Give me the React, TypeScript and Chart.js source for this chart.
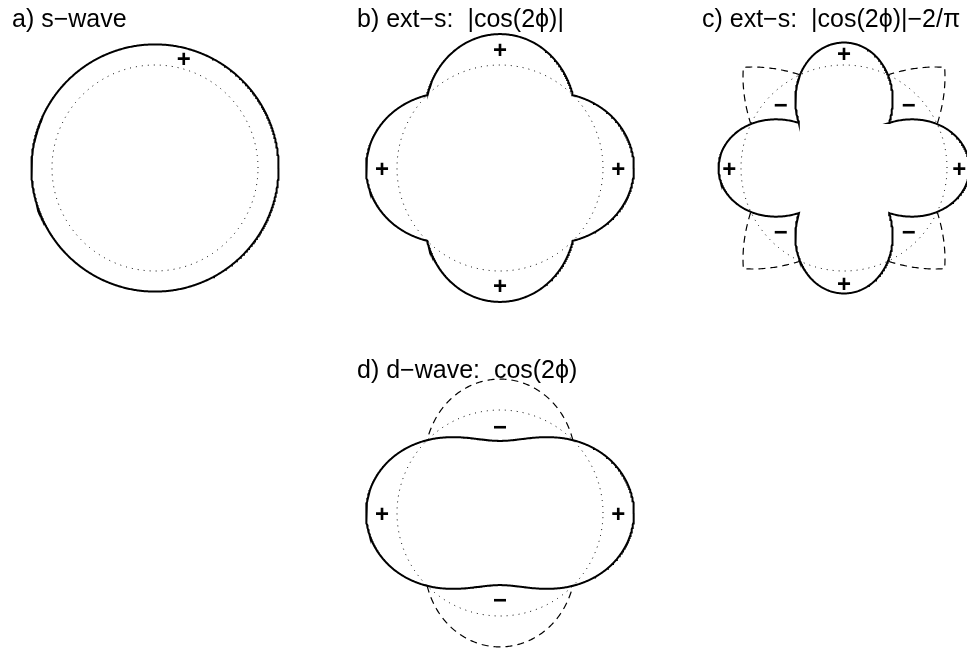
import React, { useEffect, useRef } from "react";
import { Chart, registerables } from "chart.js";

Chart.register(...registerables);

// Panel titles (the gap functions being drawn)
const PANEL_TITLES = [
  "a) s\u2212wave",
  "b) ext\u2212s:  |cos(2\u03D5)|",
  "c) ext\u2212s:  |cos(2\u03D5)|\u22122/\u03C0",
  "d) d\u2212wave:  cos(2\u03D5)",
];

// Gap functions Δ(ϕ) for each panel
const sWave = (_phi: number) => 1;
const extS = (phi: number) => Math.abs(Math.cos(2 * phi));
const extSShifted = (phi: number) => Math.abs(Math.cos(2 * phi)) - 2 / Math.PI;
const dWave = (phi: number) => Math.cos(2 * phi);
const GAP_FUNCTIONS = [sWave, extS, extSShifted, dWave];

// Radial amplitude of the gap relative to the Fermi circle (radius 1)
const AMPLITUDES = [0.2, 0.3, 0.6, 0.3];

// Angular sampling of the polar curves, degrees
const ANGLE_STEP_DEG = 0.5;

// Sign markers, in Fermi-circle units
type Sign = { t: string; x: number; y: number };
const S_WAVE_SIGNS: Sign[] = [{ t: "+", x: 0.28, y: 1.043 }];
const EXT_S_SIGNS: Sign[] = [
  { t: "+", x: 0, y: 1.13 },
  { t: "+", x: 0, y: -1.16 },
  { t: "+", x: -1.146, y: -0.02 },
  { t: "+", x: 1.148, y: -0.02 },
];
const EXT_S_SHIFTED_SIGNS: Sign[] = [
  { t: "+", x: 0, y: 1.097 },
  { t: "+", x: 0, y: -1.136 },
  { t: "+", x: -1.115, y: -0.024 },
  { t: "+", x: 1.118, y: -0.024 },
  { t: "\u2212", x: -0.615, y: 0.602 },
  { t: "\u2212", x: 0.628, y: 0.602 },
  { t: "\u2212", x: -0.615, y: -0.634 },
  { t: "\u2212", x: 0.628, y: -0.634 },
];
const D_WAVE_SIGNS: Sign[] = [
  { t: "+", x: -1.146, y: -0.02 },
  { t: "+", x: 1.148, y: -0.02 },
  { t: "\u2212", x: 0, y: 0.822 },
  { t: "\u2212", x: 0, y: -0.861 },
];
const PANEL_SIGNS = [S_WAVE_SIGNS, EXT_S_SIGNS, EXT_S_SHIFTED_SIGNS, D_WAVE_SIGNS];

// Page layout
const PANEL_CENTERS = [
  [155, 168],
  [500, 168],
  [844, 168],
  [500, 513],
];
const TITLE_POS = [
  [12, 5.5],
  [357, 5.5],
  [702, 5.5],
  [357, 356.5],
];
const CANVAS_SIZE = 300;
const PX_PER_UNIT = 103;
const HALF_RANGE = CANVAS_SIZE / 2 / PX_PER_UNIT;

const FONT = "'Liberation Sans', Arial, Helvetica, sans-serif";

const signPlugin = {
  id: "signMarkers",
  afterDatasetsDraw(chart: any, _args: any, opts: any) {
    const { ctx, scales } = chart;
    const signs: Sign[] = opts.signs || [];
    ctx.save();
    ctx.fillStyle = "#000";
    ctx.font = `bold 24px ${FONT}`;
    ctx.textAlign = "center";
    ctx.textBaseline = "middle";
    for (const s of signs) {
      ctx.fillText(s.t, scales.x.getPixelForValue(s.x), scales.y.getPixelForValue(s.y));
    }
    ctx.restore();
  },
};

function Panel({ index }: { index: number }) {
  const ref = useRef<HTMLCanvasElement>(null);
  useEffect(() => {
    const gap = GAP_FUNCTIONS[index];
    const amp = AMPLITUDES[index];
    const fermi: { x: number; y: number }[] = [];
    const solid: { x: number; y: number }[] = [];
    const mirrored: { x: number; y: number }[] = [];
    const n = Math.round(360 / ANGLE_STEP_DEG);
    for (let i = 0; i <= n; i++) {
      const phi = (i * ANGLE_STEP_DEG * Math.PI) / 180;
      const c = Math.cos(phi);
      const s = Math.sin(phi);
      const g = gap(phi);
      fermi.push({ x: c, y: s });
      const r = 1 + amp * g;
      solid.push({ x: r * c, y: r * s });
      if (g <= 1e-9) {
        const rm = 1 - amp * g;
        mirrored.push({ x: rm * c, y: rm * s });
      } else {
        mirrored.push({ x: NaN, y: NaN });
      }
    }
    const chart = new Chart(ref.current!, {
      type: "scatter",
      data: {
        datasets: [
          {
            data: fermi,
            showLine: true,
            borderColor: "#000",
            borderWidth: 1,
            borderDash: [1, 5],
            pointRadius: 0,
          },
          {
            data: mirrored,
            showLine: true,
            spanGaps: false,
            borderColor: "#000",
            borderWidth: 1.2,
            borderDash: [7, 5],
            pointRadius: 0,
          },
          {
            data: solid,
            showLine: true,
            borderColor: "#000",
            borderWidth: 2,
            pointRadius: 0,
          },
        ],
      },
      options: {
        animation: false,
        responsive: false,
        devicePixelRatio: 1,
        events: [],
        layout: { padding: 0 },
        scales: {
          x: { type: "linear", min: -HALF_RANGE, max: HALF_RANGE, display: false },
          y: { type: "linear", min: -HALF_RANGE, max: HALF_RANGE, display: false },
        },
        plugins: {
          legend: { display: false },
          tooltip: { enabled: false },
          signMarkers: { signs: PANEL_SIGNS[index] },
        } as any,
      },
      plugins: [signPlugin],
    });
    return () => chart.destroy();
  }, [index]);
  const [cx, cy] = PANEL_CENTERS[index];
  return (
    <canvas
      ref={ref}
      width={CANVAS_SIZE}
      height={CANVAS_SIZE}
      style={{
        position: "absolute",
        left: cx - CANVAS_SIZE / 2,
        top: cy - CANVAS_SIZE / 2,
        width: CANVAS_SIZE,
        height: CANVAS_SIZE,
      }}
    />
  );
}

export default function App() {
  return (
    <div
      style={{
        position: "absolute",
        left: 0,
        top: 0,
        width: 967,
        height: 649,
        overflow: "hidden",
        background: "#fff",
      }}
    >
      {PANEL_TITLES.map((_, i) => (
        <Panel key={i} index={i} />
      ))}
      {PANEL_TITLES.map((t, i) => (
        <div
          key={"t" + i}
          style={{
            position: "absolute",
            left: TITLE_POS[i][0],
            top: TITLE_POS[i][1],
            font: `25px ${FONT}`,
            lineHeight: 1,
            whiteSpace: "pre",
            color: "#000",
          }}
        >
          {t}
        </div>
      ))}
    </div>
  );
}
